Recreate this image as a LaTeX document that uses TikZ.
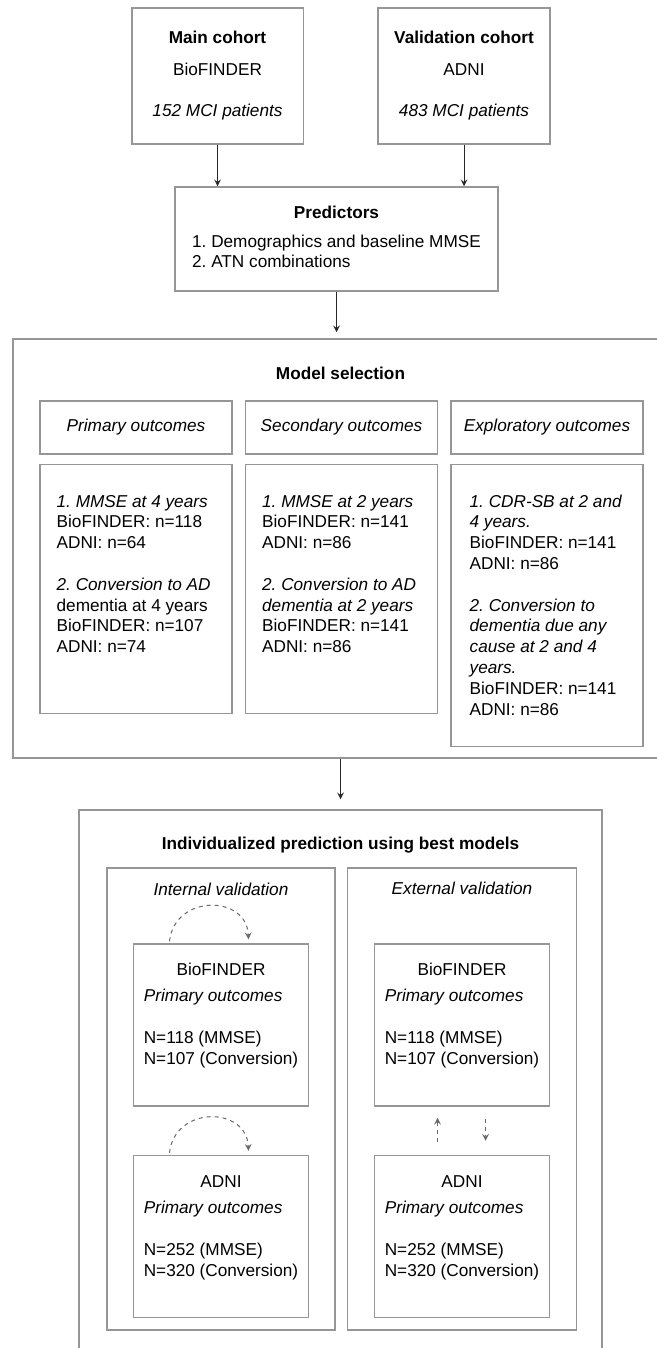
\documentclass[tikz,border=0pt]{standalone}
\usepackage{fontspec}
\setmainfont{Liberation Sans}
\usetikzlibrary{arrows,shapes,calc}
\usetikzlibrary{positioning}
\definecolor{fg}{rgb}{0,0,0}
\definecolor{edge}{RGB}{150,150,150}
\definecolor{wire}{RGB}{40,40,40}
\definecolor{dashc}{RGB}{105,105,105}
\newcommand{\txtsize}{\fontsize{8.6}{10.4}\selectfont\frenchspacing}
\tikzstyle{box}=[draw=edge, line width=0.75pt, inner sep=0pt, anchor=center, align=center, text=fg, font=\txtsize]
\tikzstyle{cohort}=[box, minimum width=85.75pt, minimum height=68pt]
\tikzstyle{head}=[box, minimum width=96pt, minimum height=26.5pt, font=\txtsize\itshape]
\tikzstyle{bodybox}=[box, minimum width=96pt, minimum height=124.5pt]
\tikzstyle{setbox}=[box, minimum width=87.5pt, minimum height=81pt]
\tikzstyle{txt}=[inner sep=0pt, text=fg, font=\txtsize]
\tikzstyle{title}=[txt, font=\txtsize\bfseries]
\tikzstyle{myarrow}=[->, >=stealth, draw=wire, line width=0.5pt]
\tikzstyle{dasharrow}=[->, >=stealth, draw=dashc, line width=0.5pt, dash pattern=on 2pt off 2pt]

\begin{document}
\begin{tikzpicture}[x=0.5pt, y=-0.5pt, node distance=6pt]
    \useasboundingbox (0,0) rectangle (657,1348);
    \clip (0,0) rectangle (657,1348);

    % cohorts
    \node[cohort] (main) at (217.5,76) {\begin{tabular}{@{}c@{}}\textbf{Main cohort}\\[5.8pt] BioFINDER\\[10.1pt] \textit{152 MCI patients}\end{tabular}};
    \node[cohort, minimum width=86pt] (valid) at (464,76) {\begin{tabular}{@{}c@{}}\textbf{Validation cohort}\\[5.8pt] ADNI\\[10.1pt] \textit{483 MCI patients}\end{tabular}};

    \node[box, minimum width=161.5pt, minimum height=52pt] (pred) at (336.5,239) {\begin{tabular}{@{}l@{}}\multicolumn{1}{@{}c@{}}{\textbf{Predictors}}\\[4pt] 1. Demographics and baseline MMSE\\ 2. ATN combinations\end{tabular}};
    \draw[myarrow] (main) -- (main |- pred.north);
    \draw[myarrow] (valid) -- (valid |- pred.north);

    % model selection
    \node[box, minimum width=343.5pt, minimum height=209.5pt] (model) at (356.5,548.5) {};
    \draw[myarrow, shorten >=3pt] (pred) -- (pred |- model.north);
    \node[title] (modeltitle) at (340.5,373) {Model selection};

    \node[head] (primhdr) at (136,427.5) {Primary outcomes};
    \node[head, right=of primhdr] (sechdr) {Secondary outcomes};
    \node[head, right=of sechdr] (exphdr) {Exploratory outcomes};

    \node[bodybox, below=4.5pt of primhdr] (primbox) {};
    \node[bodybox, below=4.5pt of sechdr] (secbox) {};
    \node[bodybox, below=4.5pt of exphdr, minimum height=141pt] (expbox) {};

    \node[txt, anchor=north west] (primtxt) at ($(primbox.north west)+(17,28.4)$) {\begin{tabular}{@{}l@{}}\textit{1. MMSE at 4 years}\\ BioFINDER: n=118\\ ADNI: n=64\\[10.4pt] \textit{2. Conversion to AD}\\ dementia at 4 years\\ BioFINDER: n=107\\ ADNI: n=74\end{tabular}};
    \node[txt, anchor=north west] (sectxt) at ($(secbox.north west)+(17,28.4)$) {\begin{tabular}{@{}l@{}}\textit{1. MMSE at 2 years}\\ BioFINDER: n=141\\ ADNI: n=86\\[10.4pt] \textit{2. Conversion to AD}\\ \textit{dementia at 2 years}\\ BioFINDER: n=141\\ ADNI: n=86\end{tabular}};
    \node[txt, anchor=north west] (exptxt) at ($(expbox.north west)+(19,28.4)$) {\begin{tabular}{@{}l@{}}\textit{1. CDR-SB at 2 and}\\ \textit{4 years.}\\ BioFINDER: n=141\\ ADNI: n=86\\[10.4pt] \textit{2. Conversion to}\\ \textit{dementia due any}\\ \textit{cause at 2 and 4}\\ \textit{years.}\\ BioFINDER: n=141\\ ADNI: n=86\end{tabular}};

    % individualized prediction
    \node[box, minimum width=261.5pt, minimum height=305pt] (outer) at (340.5,1115) {};
    \draw[myarrow, shorten >=5pt] (model.south -| outer.north) -- (outer.north);
    \node[title] (predtitle) at (340.5,845) {Individualized prediction using best models};

    \node[box, minimum width=114pt, minimum height=231pt] (intv) at (221,1099) {};
    \node[box, minimum width=114.5pt, minimum height=231pt, right=5.5pt of intv] (extv) {};
    \node[txt, font=\txtsize\itshape] (intvtitle) at ($(intv.north)+(0,22)$) {Internal validation};
    \node[txt, font=\txtsize\itshape] (extvtitle) at ($(extv.north)+(0,21)$) {External validation};

    \node[setbox, below=38pt of intv.north] (bfint) {};
    \node[setbox, below=24pt of bfint] (adint) {};
    \node[setbox, below=38pt of extv.north] (bfext) {};
    \node[setbox, below=24pt of bfext] (adext) {};

    \node[txt, anchor=north] (bfinttxt) at ($(bfint.north)+(0,17.5)$) {\begin{tabular}{@{}l@{}}\multicolumn{1}{@{}c@{}}{BioFINDER}\\[2.6pt] \textit{Primary outcomes}\\[10.6pt] N=118 (MMSE)\\ N=107 (Conversion)\end{tabular}};
    \node[txt, anchor=north] (adinttxt) at ($(adint.north)+(0,17.5)$) {\begin{tabular}{@{}l@{}}\multicolumn{1}{@{}c@{}}{ADNI}\\[2.6pt] \textit{Primary outcomes}\\[10.6pt] N=252 (MMSE)\\ N=320 (Conversion)\end{tabular}};
    \node[txt, anchor=north] (bfexttxt) at ($(bfext.north)+(0,17.5)$) {\begin{tabular}{@{}l@{}}\multicolumn{1}{@{}c@{}}{BioFINDER}\\[2.6pt] \textit{Primary outcomes}\\[10.6pt] N=118 (MMSE)\\ N=107 (Conversion)\end{tabular}};
    \node[txt, anchor=north] (adexttxt) at ($(adext.north)+(0,17.5)$) {\begin{tabular}{@{}l@{}}\multicolumn{1}{@{}c@{}}{ADNI}\\[2.6pt] \textit{Primary outcomes}\\[10.6pt] N=252 (MMSE)\\ N=320 (Conversion)\end{tabular}};

    % loops on the internal sets
    \coordinate (loop1a) at ($(bfint.north)+(-51.5,-2)$);
    \coordinate (loop1b) at ($(bfint.north)+(27.5,-4)$);
    \draw[dasharrow] (loop1a) .. controls ($(loop1a)+(5,-47)$) and ($(loop1b)+(-2,-45)$) .. (loop1b);
    \coordinate (loop2a) at ($(adint.north)+(-51.5,-2)$);
    \coordinate (loop2b) at ($(adint.north)+(27.5,-4)$);
    \draw[dasharrow] (loop2a) .. controls ($(loop2a)+(5,-47)$) and ($(loop2b)+(-2,-45)$) .. (loop2b);

    % external: both directions
    \draw[dasharrow, shorten <=6.5pt, shorten >=5.5pt] ($(adext.north)+(-24.5,0)$) -- ($(bfext.south)+(-24.5,0)$);
    \draw[dasharrow, shorten <=6pt, shorten >=7pt] ($(bfext.south)+(23.5,0)$) -- ($(adext.north)+(23.5,0)$);

\end{tikzpicture}
\end{document}
